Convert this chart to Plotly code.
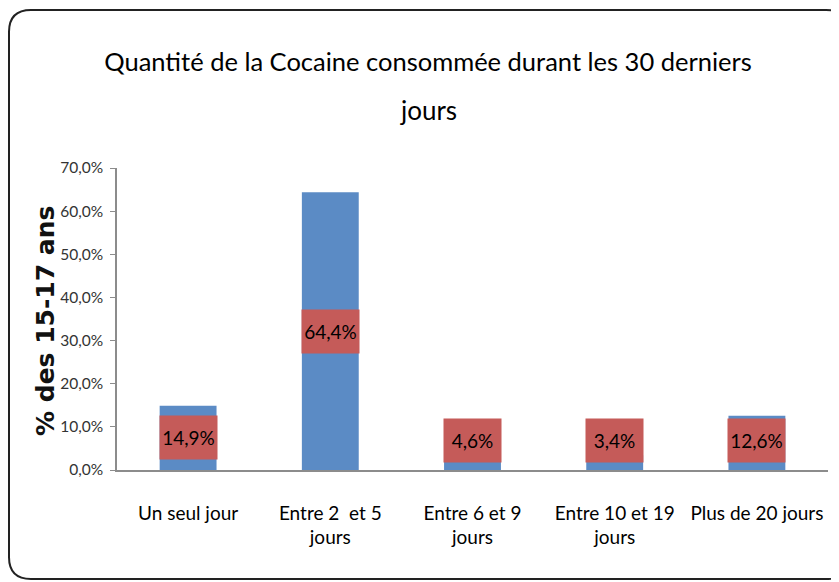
import plotly.graph_objects as go

categories = ["Un seul jour", "Entre 2  et 5<br>jours", "Entre 6 et 9<br>jours",
              "Entre 10 et 19<br>jours", "Plus de 20 jours"]
values = [14.9, 64.4, 4.6, 3.4, 12.6]
value_labels = ["14,9%", "64,4%", "4,6%", "3,4%", "12,6%"]
tick_values = [0, 10, 20, 30, 40, 50, 60, 70]
tick_labels = ["0,0%", "10,0%", "20,0%", "30,0%", "40,0%", "50,0%", "60,0%", "70,0%"]
title_lines = ["Quantité de la Cocaine consommée durant les 30 derniers", "jours"]
y_title = "% des 15-17 ans"

W, H = 839, 582
OFF = 8  # page body margin shifts the figure by this much
ML, MR, MT, MB = 117 - OFF, 839 - (828 - OFF), 168 - OFF, 582 - (470 - OFF)
FONT = "Lato, Open Sans, sans-serif"


def px(x, y):
    """pixel position on the screen -> paper coordinates"""
    x, y = x - OFF, y - OFF
    return (x - ML) / (W - ML - MR), (H - MB - y) / (H - MT - MB)


def frame_path(x0, y0, x1, y1, r):
    pts = [
        ("M", [(x0 + r, y0)]), ("L", [(x1 - r, y0)]), ("Q", [(x1, y0), (x1, y0 + r)]),
        ("L", [(x1, y1 - r)]), ("Q", [(x1, y1), (x1 - r, y1)]),
        ("L", [(x0 + r, y1)]), ("Q", [(x0, y1), (x0, y1 - r)]),
        ("L", [(x0, y0 + r)]), ("Q", [(x0, y0), (x0 + r, y0)]),
    ]
    out = []
    for cmd, coords in pts:
        out.append(cmd + " ".join("%.5f,%.5f" % px(a, b) for a, b in coords))
    return " ".join(out) + " Z"


fig = go.Figure(go.Bar(
    x=categories, y=values, width=0.4,
    marker=dict(color="#5B8BC5", line=dict(width=0)),
    hoverinfo="skip",
))

for cat, v, lab in zip(categories, values, value_labels):
    fig.add_annotation(
        x=cat, y=max(v / 2, 6.8), text=lab, showarrow=False,
        width=57, height=43, borderpad=0, bgcolor="#C55B59",
        font=dict(family=FONT, size=19, color="#000000"),
        xanchor="center", yanchor="middle",
    )

# second title line, placed apart to get the wide line spacing of the original
tx, ty = px(428, 110)
fig.add_annotation(x=tx, y=ty, xref="paper", yref="paper", text=title_lines[1],
                   showarrow=False, xanchor="center", yanchor="middle",
                   font=dict(family=FONT, size=26, color="#000000"))

# y axis title
ax_, ay_ = px(45, 321)
fig.add_annotation(x=ax_, y=ay_, xref="paper", yref="paper", text="<b>%s</b>" % y_title,
                   showarrow=False, textangle=-90, xanchor="center", yanchor="middle",
                   font=dict(family="DejaVu Sans", size=25, color="#111111"))

fig.add_shape(type="path", xref="paper", yref="paper",
              path=frame_path(9, 10, 848, 579, 22),
              line=dict(color="#222222", width=2), layer="above")

fig.update_layout(
    width=W, height=H,
    margin=dict(l=ML, r=MR, t=MT, b=MB),
    paper_bgcolor="white", plot_bgcolor="white",
    showlegend=False,
    title=dict(
        text=title_lines[0],
        x=(428 - OFF) / W, xanchor="center", y=1 - (62 - OFF) / H, yanchor="middle",
        font=dict(family=FONT, size=25.5, color="#000000"),
        automargin=False,
    ),
    xaxis=dict(
        showline=True, linecolor="#8C8C8C", linewidth=1.5,
        ticks="", tickangle=0, automargin=False, ticklabelstandoff=25,
        tickfont=dict(family=FONT, size=19, color="#000000"),
        fixedrange=True,
    ),
    yaxis=dict(
        range=[0, 70], tickvals=tick_values, ticktext=tick_labels,
        showline=True, linecolor="#8C8C8C", linewidth=1.5,
        ticks="outside", ticklen=5, tickcolor="#8C8C8C",
        showgrid=False, zeroline=False, automargin=False, ticklabelstandoff=4,
        tickfont=dict(family=FONT, size=15.5, color="#333333"),
        fixedrange=True,
    ),
)

fig.write_html("out.html")
